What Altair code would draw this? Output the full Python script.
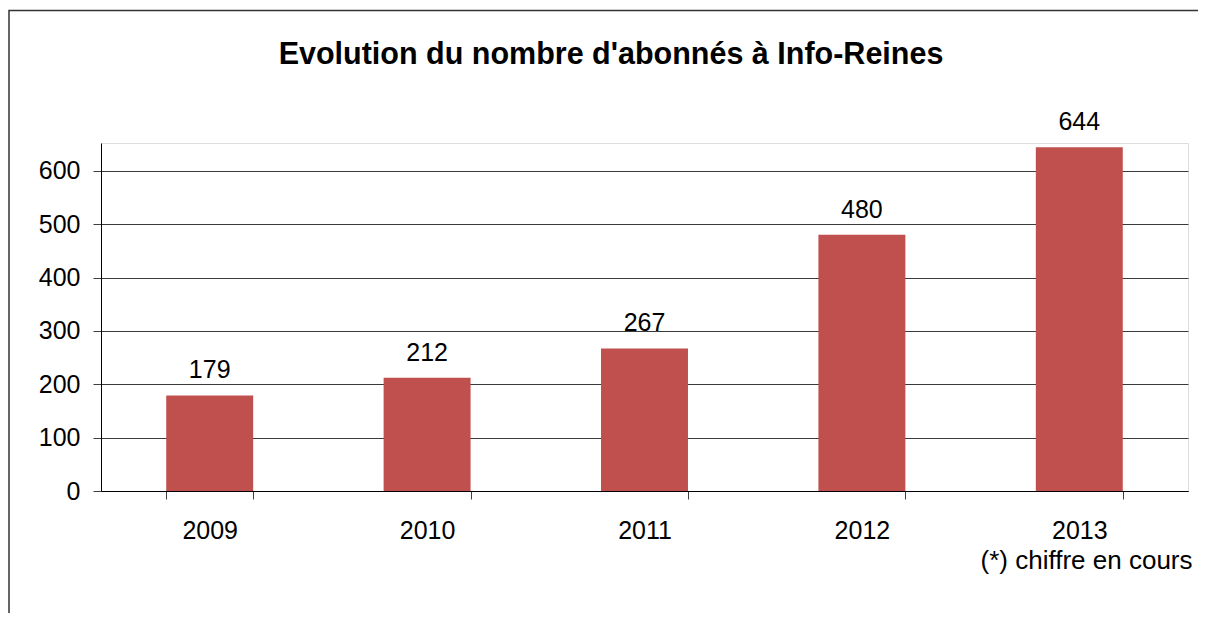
import altair as alt
import pandas as pd

years = ["2009", "2010", "2011", "2012", "2013"]
subscribers = [179, 212, 267, 480, 644]
y_ticks = [0, 100, 200, 300, 400, 500, 600]
title_text = ["Evolution du nombre d'abonnés à Info-Reines"]
footnote = "(*) chiffre en cours"

df = pd.DataFrame({"year": years, "subs": subscribers})
FONT = "Liberation Sans"
W, H = 1087, 348

base = alt.Chart(df)

x_enc = alt.X(
    "year:N",
    sort=years,
    scale=alt.Scale(paddingInner=0.6, paddingOuter=0.3),
    axis=alt.Axis(
        title=footnote,
        titleAnchor="end",
        titleAlign="right",
        titleBaseline="alphabetic",
        titleX=W + 4,
        titleY=77,
        titleFont=FONT,
        titleFontSize=26,
        titleFontWeight="normal",
        titleColor="#000000",
        labelAngle=0,
        labelFont=FONT,
        labelFontSize=25,
        labelColor="#000000",
        labelPadding=19,
        tickBand="extent",
        tickSize=8,
        tickColor="#404040",
        domainColor="#000000",
        grid=False,
    ),
)

y_enc = alt.Y(
    "subs:Q",
    scale=alt.Scale(domain=[0, 652], nice=False),
    axis=alt.Axis(
        title=None,
        values=y_ticks,
        labelFont=FONT,
        labelFontSize=25,
        labelColor="#000000",
        labelPadding=13,
        tickSize=8,
        tickColor="#404040",
        domainColor="#000000",
        gridColor="#3a3a3a",
        gridWidth=1,
    ),
)

bars = base.mark_bar(color="#c0504d").encode(x=x_enc, y=y_enc)

labels = base.mark_text(
    font=FONT, fontSize=25, color="#000000", dy=-17, baseline="alphabetic"
).encode(x=alt.X("year:N", sort=years), y="subs:Q", text="subs:Q")

one = alt.Chart(pd.DataFrame({"t": title_text}))

title = one.mark_text(
    font=FONT, fontSize=30.5, fontWeight="bold", color="#000000",
    align="center", baseline="alphabetic",
).encode(x=alt.value(510), y=alt.value(-79.5), text="t:N")

frame = one.mark_rect(
    filled=False, stroke="#333333", strokeWidth=1.5, clip=False
).encode(
    x=alt.value(-92), x2=alt.value(W + 60), y=alt.value(-132.5), y2=alt.value(H + 300)
)

chart = (
    alt.layer(bars, labels, title, frame)
    .properties(
        width=W,
        height=H,
        padding={"left": 93, "top": 135, "right": 10, "bottom": 122},
        autosize=alt.AutoSizeParams(type="none"),
    )
    .configure_view(fill="#c0c0c0", stroke="#808080", strokeWidth=1.5)
    .configure(background="#ffffff")
)

chart.save("out.html", embed_options={"renderer": "svg", "actions": False})
